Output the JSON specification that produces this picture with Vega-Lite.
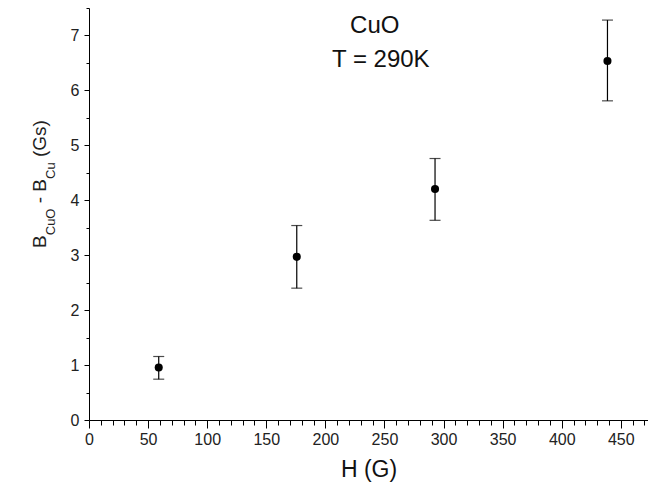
{
  "$schema": "https://vega.github.io/schema/vega-lite/v6.json",
  "width": 559,
  "height": 412,
  "autosize": {"type": "none"},
  "padding": {"left": 89, "top": 8, "right": 0, "bottom": 75},
  "background": "white",
  "config": {"view": {"stroke": null}, "font": "Liberation Sans"},
  "encoding": {
    "x": {
      "field": "H",
      "type": "quantitative",
      "scale": {"domain": [0, 473], "nice": false, "zero": false},
      "axis": {
        "title": "H (G)",
        "values": [0,10,20,30,40,50,60,70,80,90,100,110,120,130,140,150,160,170,180,190,200,210,220,230,240,250,260,270,280,290,300,310,320,330,340,350,360,370,380,390,400,410,420,430,440,450,460,470],
        "labelExpr": "datum.value % 50 === 0 ? format(datum.value, 'd') : ''",
        "tickSize": {"condition": {"test": "datum.value % 50 === 0", "value": 8}, "value": 5},
        "labelOverlap": false,
        "labelFlush": false,
        "grid": false,
        "domainColor": "#000",
        "domainWidth": 1,
        "tickColor": "#000",
        "tickWidth": 1,
        "labelColor": "#222",
        "labelFontSize": 16,
        "labelPadding": 3,
        "titleFontSize": 23,
        "titleFontWeight": "normal",
        "titleColor": "#111",
        "titlePadding": 11
      }
    },
    "y": {
      "field": "B",
      "type": "quantitative",
      "scale": {"domain": [0, 7.5], "nice": false, "zero": false},
      "axis": {
        "title": null,
        "values": [0,0.5,1,1.5,2,2.5,3,3.5,4,4.5,5,5.5,6,6.5,7,7.5],
        "labelExpr": "datum.value % 1 === 0 ? format(datum.value, 'd') : ''",
        "tickSize": {"condition": {"test": "datum.value % 1 === 0", "value": 5}, "value": 3},
        "labelOverlap": false,
        "labelFlush": false,
        "grid": false,
        "domainColor": "#000",
        "domainWidth": 1,
        "tickColor": "#000",
        "tickWidth": 1,
        "labelColor": "#222",
        "labelFontSize": 16,
        "labelPadding": 5
      }
    }
  },
  "layer": [
    {
      "data": {"values": [
        {"H": 59, "B": 0.955, "lo": 0.743, "hi": 1.156},
        {"H": 175.8, "B": 2.97, "lo": 2.40, "hi": 3.54},
        {"H": 292.8, "B": 4.205, "lo": 3.635, "hi": 4.76},
        {"H": 438.7, "B": 6.535, "lo": 5.81, "hi": 7.28}
      ]},
      "layer": [
        {
          "mark": {"type": "errorbar", "color": "#000", "thickness": 1.2, "ticks": {"size": 11}},
          "encoding": {
            "y": {"field": "lo", "type": "quantitative", "title": null},
            "y2": {"field": "hi"}
          }
        },
        {
          "mark": {"type": "circle", "size": 65, "color": "#000", "opacity": 1}
        }
      ]
    },
    {
      "data": {"values": [
        {"t": "CuO", "H": 220.9, "B": 7.05},
        {"t": "T = 290K", "H": 205.6, "B": 6.43}
      ]},
      "mark": {"type": "text", "align": "left", "baseline": "alphabetic", "fontSize": 24, "color": "#111"},
      "encoding": {"text": {"field": "t"}}
    },
    {
      "data": {"values": [
        {"t": "B", "H": -36, "B": 3.131},
        {"t": "- B", "H": -36, "B": 3.945},
        {"t": "(Gs)", "H": -36, "B": 4.786}
      ]},
      "mark": {"type": "text", "align": "left", "baseline": "alphabetic", "angle": 270, "fontSize": 19, "color": "#222"},
      "encoding": {"text": {"field": "t"}}
    },
    {
      "data": {"values": [
        {"t": "CuO", "H": -28.4, "B": 3.363},
        {"t": "Cu", "H": -28.4, "B": 4.387}
      ]},
      "mark": {"type": "text", "align": "left", "baseline": "alphabetic", "angle": 270, "fontSize": 13, "color": "#222"},
      "encoding": {"text": {"field": "t"}}
    }
  ]
}
